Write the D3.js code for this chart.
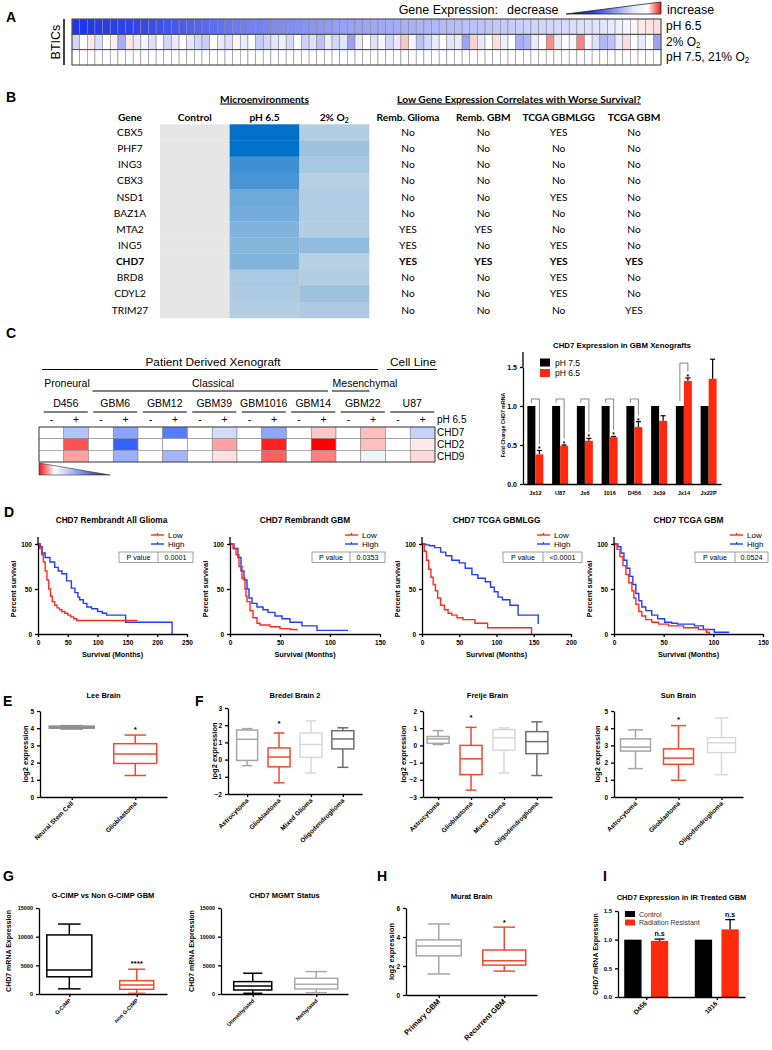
<!DOCTYPE html>
<html><head><meta charset="utf-8">
<script src="https://cdn.jsdelivr.net/npm/d3@7/dist/d3.min.js"></script>
<style>html,body{margin:0;padding:0;background:#fff;}svg{display:block;}</style>
</head><body>
<svg id="fig" width="772" height="1050" xmlns="http://www.w3.org/2000/svg"></svg>
<script>
// ================= DATA =================
// Panel A : BTIC chromatin-gene expression (log fold change vs control)
const aRowLabels = ["pH 6.5", "2% O2", "pH 7.5, 21% O2"];
const aPH65 = [-1,-1,-0.98,-0.97,-0.96,-0.95,-0.94,-0.93,-0.92,-0.9,
  -0.88,-0.86,-0.84,-0.82,-0.8,-0.78,-0.76,-0.74,-0.72,-0.7,
  -0.68,-0.66,-0.65,-0.63,-0.62,-0.6,-0.58,-0.57,-0.56,-0.55,
  -0.53,-0.52,-0.51,-0.5,-0.48,-0.47,-0.46,-0.45,-0.44,-0.43,
  -0.42,-0.41,-0.4,-0.39,-0.38,-0.37,-0.36,-0.35,-0.34,-0.33,
  -0.32,-0.31,-0.3,-0.29,-0.28,-0.27,-0.26,-0.25,-0.24,-0.23,
  -0.22,-0.21,-0.2,-0.19,-0.18,-0.17,-0.16,-0.15,-0.14,-0.12,
  -0.1,-0.08,-0.05,0.05,0.1,0.12,0.15];
const aO2 = [-0.2,0,0.1,-0.15,0,0.08,-0.4,0.1,-0.1,-0.05,
  -0.15,0,-0.2,-0.1,0,-0.12,-0.2,-0.25,0,-0.1,
  -0.15,0.05,-0.1,0,-0.25,-0.2,-0.12,-0.08,-0.18,0,
  -0.22,-0.15,-0.3,-0.1,-0.2,-0.12,-0.45,-0.1,0,-0.15,
  -0.05,-0.2,-0.1,0.25,-0.05,-0.3,-0.2,-0.1,0,-0.12,
  -0.1,-0.45,0.2,-0.1,0,0.15,-0.08,0,-0.4,-0.35,
  -0.1,0,0.5,-0.1,0,-0.05,0.55,-0.05,-0.15,-0.35,
  -0.3,-0.1,0.15,0,-0.1,0,-0.45];
const aBase = [0,0,0,0,0,0,0,0,0,0, 0,0,0,0,0,0,0,0,0,0, 0,0,0,0,0,0,0,0,0,0,
  0,0,0,0,0,0,0,0,0,0, 0,0,0,0,0,0,0,0,0,0, 0,0,0,0,0,0,0,0,0,0,
  0,0,0,0,0,0,0,0,0,0, 0,0,0,0,0,0,0];

// Panel B
const bGenes = ["CBX5","PHF7","ING3","CBX3","NSD1","BAZ1A","MTA2","ING5","CHD7","BRD8","CDYL2","TRIM27"];
const bConditions = ["Control","pH 6.5","2% O2"];
const bControl = [0,0,0,0,0,0,0,0,0,0,0,0];
const bPH65 = [-1,-1,-0.73,-0.69,-0.52,-0.5,-0.44,-0.42,-0.43,-0.26,-0.24,-0.22];
const bO2 = [-0.22,-0.32,-0.27,-0.2,-0.23,-0.23,-0.22,-0.37,-0.2,-0.22,-0.32,-0.25];
const bSurvCols = ["Remb. Glioma","Remb. GBM","TCGA GBMLGG","TCGA GBM"];
const bRembGlioma = ["No","No","No","No","No","No","YES","YES","YES","No","No","No"];
const bRembGBM    = ["No","No","No","No","No","No","YES","No","YES","No","No","No"];
const bTcgaGbmlgg = ["YES","No","No","No","YES","No","No","YES","YES","YES","YES","No"];
const bTcgaGbm    = ["No","No","No","No","No","No","No","No","YES","No","No","YES"];

// Panel C heatmap
const cSamples = ["D456","GBM6","GBM12","GBM39","GBM1016","GBM14","GBM22","U87"];
const cTreat = ["-","+"];
const cGenes = ["CHD7","CHD2","CHD9"];
const cCHD7 = [0,-0.34, 0,-0.52, 0,-0.75, 0,-0.2, 0,-0.5, 0,0.22, 0,0.25, 0,-0.26];
const cCHD2 = [0,0.68, 0,-0.9, 0,0, 0,0.37, 0,0.87, 0,1.0, 0,0.25, 0,0.09];
const cCHD9 = [0,0.37, 0,-0.45, 0,-0.42, 0,0.12, 0,0.62, 0,0.5, 0,-0.07, 0,0.15];

// Panel C bars
const cBarCats = ["Jx12","U87","Jx6","1016","D456","Jx39","Jx14","Jx22P"];
const cBarPH75 = [1,1,1,1,1,1,1,1];
const cBarPH65 = [0.38,0.49,0.555,0.6,0.73,0.81,1.32,1.35];
const cBarErr  = [0.05,0.01,0.03,0.01,0.07,0.065,0.04,0.25];
const cBarSig  = [1,1,1,1,1,0,1,0];
const cBarTicks = [0,0.5,1.0,1.5];

// Panel D Kaplan-Meier [months, percent survival]
const kmTitles = ["CHD7 Rembrandt All Glioma","CHD7 Rembrandt GBM","CHD7 TCGA GBMLGG","CHD7 TCGA GBM"];
const kmPvalues = ["0.0001","0.0353","<0.0001","0.0524"];
const kmXmax = [250,150,200,150];
const kmXticks = [[0,50,100,150,200,250],[0,50,100,150],[0,50,100,150,200],[0,50,100,150]];
const km1Low = [[0,100],[3,95],[6,88],[9,80],[12,70],[15,60],[18,50],[21,42],[24,36],[28,32],[32,29],[36,27],[40,25],[45,23],[50,21],[55,19],[60,17],[65,15],[167,15]];
const km1High = [[0,100],[4,97],[7,90],[12,85],[20,80],[28,74],[34,70],[40,67],[48,59],[56,51],[62,46],[67,41],[70,38],[76,34],[82,30],[90,28],[100,25],[108,23],[115,21],[147,21],[147,13],[225,13],[225,0]];
const km2Low = [[0,100],[3,95],[6,88],[9,75],[12,62],[15,50],[16,42],[17,36],[20,26],[23,18],[27,12],[30,10],[40,8],[50,6],[60,5],[67,4]];
const km2High = [[0,100],[4,95],[8,85],[11,70],[14,60],[17,50],[19,40],[22,34],[27,30],[33,27],[38,24],[45,20],[52,17],[60,13],[72,9],[87,4],[118,4]];
const km3Low = [[0,100],[3,92],[6,82],[9,72],[12,63],[15,55],[18,48],[21,40],[25,32],[30,27],[35,23],[40,21],[47,18],[55,16],[71,12],[88,7],[147,7],[147,0]];
const km3High = [[0,100],[5,99],[10,98],[17,96],[25,91],[32,87],[40,82],[50,79],[58,73],[67,66],[75,62],[85,58],[92,52],[97,47],[102,41],[108,38],[118,32],[129,21],[154,21],[156,11]];
const km4Low = [[0,100],[3,94],[6,86],[9,76],[12,66],[15,57],[18,48],[20,40],[22,33],[25,25],[28,20],[32,16],[38,13],[45,11],[55,9],[70,7],[85,5],[93,2],[96,0]];
const km4High = [[0,100],[4,97],[7,90],[10,82],[13,73],[16,64],[19,55],[22,45],[25,37],[28,30],[32,26],[38,21],[44,17],[51,13],[58,12],[64,11],[81,9],[90,5],[101,2],[116,2]];

// Panels E-H box plots: [min, q1, median, q3, max]
const leeCats = ["Neural Stem Cell","Glioblastoma"];
const leeStats = [[3.95,4.0,4.05,4.12,4.15],[1.25,1.95,2.5,3.1,3.6]];
const bredelCats = ["Astrocytoma","Glioblastoma","Mixed Glioma","Oligodendroglioma"];
const bredelStats = [[-0.35,-0.05,1.18,1.72,1.8],[-1.35,-0.42,0.15,0.68,1.55],[-0.78,0.13,0.88,1.55,2.25],[-0.45,0.62,1.2,1.68,1.85]];
const freijeCats = ["Astrocytoma","Glioblastoma","Mixed Glioma","Oligodendroglioma"];
const freijeStats = [[0.05,0.12,0.38,0.52,0.86],[-2.6,-1.7,-0.78,0.0,1.05],[-1.6,-0.28,0.45,0.92,1.02],[-1.75,-0.48,0.22,0.8,1.37]];
const sunCats = ["Astrocytoma","Glioblastoma","Oligodendroglioma"];
const sunStats = [[1.65,2.67,2.9,3.38,3.9],[0.97,1.9,2.26,2.8,4.15],[1.3,2.58,3.15,3.45,4.6]];
const gcimpCats = ["G-CIMP","non G-CIMP"];
const gcimpStats = [[900,3000,4200,10300,12200],[120,820,1575,2330,4320]];
const mgmtCats = ["Unmethylated","Methylated"];
const mgmtStats = [[120,700,1400,2160,3620],[230,875,1690,2740,3910]];
const muratCats = ["Primary GBM","Recurrent GBM"];
const muratStats = [[1.45,2.7,3.38,3.8,4.9],[1.65,2.06,2.36,3.1,4.68]];

// Panel I
const iGroups = ["D456","1016"];
const iSeries = ["Control","Radiation Resistant"];
const iControl = [1,1];
const iResistant = [0.98,1.18];
const iErr = [0.03,0.17];
const iSig = ["n.s","n.s"];

// ================= DRAWING =================
const svg = d3.select('#fig');
svg.append('rect').attr('width',772).attr('height',1050).attr('fill','#fff');
const FA = "'Liberation Sans', Arial, Helvetica, sans-serif";
const FC = "Lato, Carlito, Calibri, 'Open Sans', sans-serif";
const RED = '#ff2a0d', BOXRED = '#f24a2e', KM_RED = '#ff2a1a', KM_BLUE = '#1f3cff';

function T(g, x, y, s, o = {}) {
  const t = g.append('text').attr('x', x).attr('y', y)
    .attr('font-family', o.ff || FA).attr('font-size', o.fs || 8)
    .attr('font-weight', o.fw || 'normal').attr('text-anchor', o.anchor || 'start')
    .attr('fill', o.fill || '#000');
  if (o.rich) richText(t, s, o.fs || 8); else t.text(s);
  if (o.rot) t.attr('transform', `rotate(${o.rot},${x},${y})`);
  if (o.ul) t.attr('text-decoration', 'underline');
  return t;
}
function richText(t, s, fs) {
  const parts = s.split('O2'); let shift = 0;
  parts.forEach((p, i) => {
    const last = i === parts.length - 1;
    const a = t.append('tspan').text(p + (last ? '' : 'O'));
    if (shift) { a.attr('dy', -shift); shift = 0; }
    if (!last) { t.append('tspan').text('2').attr('font-size', fs * 0.68).attr('dy', fs * 0.22); shift = fs * 0.22; }
  });
}
function styleAxis(sel, fs, fw = 'bold') {
  sel.attr('font-family', FA).attr('font-size', fs).attr('font-weight', fw);
  sel.selectAll('path,line').attr('stroke', '#000').attr('stroke-width', 1.3);
  sel.selectAll('text').attr('fill', '#000');
}

// panel letters
[['A',6,22],['B',6,102],['C',6,338],['D',4,517],['E',3,706],['F',195,706],['G',3,881],['H',377,881],['I',603,881]]
  .forEach(([s,x,y]) => T(svg, x, y, s, {fw:'bold', fs:14}));

// ---------- Panel A ----------
{
  const g = svg.append('g');
  const top = 19, bot = 65;
  const x = d3.scaleBand().domain(d3.range(aPH65.length)).range([72, 661]);
  const y = d3.scaleBand().domain(aRowLabels).range([top, bot]);
  const col = d3.scaleLinear().domain([-1, 0, 1]).range(['#1f35e8', '#ffffff', '#f01c1c']);
  [aPH65, aO2, aBase].forEach((row, ri) => {
    g.append('g').selectAll('rect').data(row).join('rect')
      .attr('x', (d, i) => x(i)).attr('y', y(aRowLabels[ri]))
      .attr('width', x.bandwidth()).attr('height', y.bandwidth())
      .attr('fill', d => col(d)).attr('stroke', '#8a8a8a').attr('stroke-width', 0.6);
    g.append('rect').attr('x', 72).attr('y', y(aRowLabels[ri])).attr('width', 589).attr('height', y.bandwidth())
      .attr('fill', 'none').attr('stroke', '#444').attr('stroke-width', 0.9);
    T(g, 666, y(aRowLabels[ri]) + y.bandwidth() / 2 + 3.5, aRowLabels[ri], {fs: 12, rich: true});
  });
  g.append('line').attr('x1', 64).attr('x2', 64).attr('y1', top).attr('y2', bot).attr('stroke', '#000').attr('stroke-width', 1.5);
  T(g, 60, (top + bot) / 2, 'BTICs', {fs: 12.5, anchor: 'middle', rot: -90});
  T(g, 498, 14, 'Gene Expression:', {fs: 12.5, anchor: 'end'});
  T(g, 507, 14, 'decrease', {fs: 12.5});
  T(g, 667, 14, 'increase', {fs: 12.5});
  const defs = svg.append('defs');
  const grA = defs.append('linearGradient').attr('id', 'gradA');
  [[0,'#0a0a40'],[0.3,'#2f45dd'],[0.72,'#e8ebfc'],[0.86,'#ffffff'],[1,'#f01818']]
    .forEach(([o,c]) => grA.append('stop').attr('offset', o).attr('stop-color', c));
  g.append('polygon').attr('points', '566,14 661,14 661,2').attr('fill', 'url(#gradA)').attr('stroke', '#222').attr('stroke-width', 0.8);
  const grC = defs.append('linearGradient').attr('id', 'gradC');
  [[0,'#e8141e'],[0.22,'#ffffff'],[0.6,'#8190e6'],[1,'#15155a']]
    .forEach(([o,c]) => grC.append('stop').attr('offset', o).attr('stop-color', c));
}

// ---------- Panel B ----------
{
  const g = svg.append('g');
  const y = d3.scaleBand().domain(bGenes).range([124.3, 318]);
  const x = d3.scaleBand().domain(bConditions).range([160, 369]);
  const col = d3.scaleLinear().domain([-1, -0.2, 0]).range(['#0070c8', '#b8d0e4', '#e6e6e6']).clamp(true);
  [bControl, bPH65, bO2].forEach((arr, ci) => {
    g.append('g').selectAll('rect').data(arr).join('rect')
      .attr('x', x(bConditions[ci])).attr('y', (d, i) => y(bGenes[i]))
      .attr('width', x.bandwidth() + 0.3).attr('height', y.bandwidth() + 0.3).attr('fill', d => col(d));
  });
  const xs = d3.scalePoint().domain(bSurvCols).range([408, 634]);
  const fs = 10.2;
  T(g, x('pH 6.5') + x.bandwidth() / 2, 102.5, 'Microenvironments', {ff: FC, fw: 'bold', fs: fs, anchor: 'middle', ul: true});
  T(g, 519, 102.5, 'Low Gene Expression Correlates with Worse Survival?', {ff: FC, fw: 'bold', fs: fs, anchor: 'middle', ul: true});
  T(g, 130, 120.5, 'Gene', {ff: FC, fw: 'bold', fs: fs, anchor: 'middle'});
  bConditions.forEach(c => T(g, x(c) + x.bandwidth() / 2, 120.5, c, {ff: FC, fw: 'bold', fs: fs, anchor: 'middle', rich: true}));
  bSurvCols.forEach(c => T(g, xs(c), 120.5, c, {ff: FC, fw: 'bold', fs: fs, anchor: 'middle'}));
  const survCols = [bRembGlioma, bRembGBM, bTcgaGbmlgg, bTcgaGbm];
  bGenes.forEach((gene, i) => {
    const yy = y(gene) + y.bandwidth() / 2 + 3.6;
    const bold = gene === 'CHD7' ? 'bold' : 'normal';
    T(g, 130, yy, gene, {ff: FC, fs: fs, anchor: 'middle', fw: bold});
    survCols.forEach((arr, ci) => T(g, xs(bSurvCols[ci]), yy, arr[i], {ff: FC, fs: fs, anchor: 'middle', fw: bold}));
  });
}

// ---------- Panel C heatmap ----------
{
  const g = svg.append('g');
  const cols = [];
  cSamples.forEach(s => cTreat.forEach(t => cols.push(s + t)));
  const x = d3.scaleBand().domain(cols).range([39, 435]);
  const xs = d3.scaleBand().domain(cSamples).range([39, 435]);
  const y = d3.scaleBand().domain(cGenes).range([427, 462]);
  const col = d3.scaleLinear().domain([-1, 0, 1]).range(['#1e50ff', '#ffffff', '#ff0000']);
  [cCHD7, cCHD2, cCHD9].forEach((row, ri) => {
    g.append('g').selectAll('rect').data(row).join('rect')
      .attr('x', (d, i) => x(cols[i])).attr('y', y(cGenes[ri]))
      .attr('width', x.bandwidth()).attr('height', y.bandwidth())
      .attr('fill', d => col(d)).attr('stroke', '#888').attr('stroke-width', 0.6);
    T(g, 437, y(cGenes[ri]) + y.bandwidth() / 2 + 3.5, cGenes[ri], {fs: 10});
  });
  g.append('rect').attr('x', 39).attr('y', 427).attr('width', 396).attr('height', 35).attr('fill', 'none').attr('stroke', '#333').attr('stroke-width', 0.8);
  cols.forEach((c, i) => T(g, x(c) + x.bandwidth() / 2, 423, cTreat[i % 2], {fs: 10.5, anchor: 'middle'}));
  T(g, 437, 423, 'pH 6.5', {fs: 10});
  cSamples.forEach(s => {
    const cx = xs(s) + xs.bandwidth() / 2 + 2;
    T(g, cx, 407, s, {fs: 10.5, anchor: 'middle'});
    g.append('line').attr('x1', cx - 22).attr('x2', cx + 22).attr('y1', 412).attr('y2', 412).attr('stroke', '#000').attr('stroke-width', 1);
  });
  T(g, 67, 387, 'Proneural', {fs: 10.5, anchor: 'middle'});
  T(g, 213, 387, 'Classical', {fs: 10.5, anchor: 'middle'});
  T(g, 365, 387, 'Mesenchymal', {fs: 10.5, anchor: 'middle'});
  g.append('line').attr('x1', xs('GBM6') + 4).attr('x2', xs('GBM14') + xs.bandwidth() - 8).attr('y1', 391).attr('y2', 391).attr('stroke', '#000');
  g.append('line').attr('x1', xs('GBM22') - 4).attr('x2', xs('GBM22') + xs.bandwidth() - 16).attr('y1', 391).attr('y2', 391).attr('stroke', '#000');
  T(g, 213, 366, 'Patient Derived Xenograft', {fs: 11.8, anchor: 'middle'});
  T(g, 413, 366, 'Cell Line', {fs: 11.8, anchor: 'middle'});
  g.append('line').attr('x1', 42).attr('x2', 378).attr('y1', 369.5).attr('y2', 369.5).attr('stroke', '#000').attr('stroke-width', 1.2);
  g.append('line').attr('x1', 387).attr('x2', 437).attr('y1', 369.5).attr('y2', 369.5).attr('stroke', '#000').attr('stroke-width', 1.2);
  g.append('polygon').attr('points', '39,463 110,475 39,475').attr('fill', 'url(#gradC)').attr('stroke', '#333').attr('stroke-width', 0.6);
}

// ---------- Panel C bar chart ----------
{
  const g = svg.append('g');
  const x = d3.scaleBand().domain(cBarCats).range([523, 721]);
  const xi = d3.scaleBand().domain(['pH 7.5', 'pH 6.5']).range([-8, 8]);
  const y = d3.scaleLinear().domain([0, 1.5]).range([484, 367]);
  const cx = c => x(c) + x.bandwidth() / 2;
  g.append('g').selectAll('rect').data(cBarPH75).join('rect')
    .attr('x', (d, i) => cx(cBarCats[i]) + xi('pH 7.5')).attr('y', d => y(d))
    .attr('width', xi.bandwidth()).attr('height', d => y(0) - y(d)).attr('fill', '#000');
  g.append('g').selectAll('rect').data(cBarPH65).join('rect')
    .attr('x', (d, i) => cx(cBarCats[i]) + xi('pH 6.5')).attr('y', d => y(d))
    .attr('width', xi.bandwidth()).attr('height', d => y(0) - y(d)).attr('fill', RED);
  cBarCats.forEach((c, i) => {
    const rx = cx(c) + xi('pH 6.5') + xi.bandwidth() / 2;
    const v = cBarPH65[i], e = cBarErr[i];
    g.append('line').attr('x1', rx).attr('x2', rx).attr('y1', y(v)).attr('y2', y(v + e)).attr('stroke', '#000').attr('stroke-width', 1.2);
    g.append('line').attr('x1', rx - 2.5).attr('x2', rx + 2.5).attr('y1', y(v + e)).attr('y2', y(v + e)).attr('stroke', '#000').attr('stroke-width', 1.2);
    if (cBarSig[i]) {
      const bx = cx(c) + xi('pH 7.5') + xi.bandwidth() / 2;
      const top = v > 1 ? v + e + 0.19 : 1.09;
      const leftBottom = v > 1 ? 1.06 : 1.04;
      g.append('path').attr('d', `M${bx},${y(leftBottom)}V${y(top)}H${rx}V${y(v + e + 0.08)}`)
        .attr('fill', 'none').attr('stroke', '#666').attr('stroke-width', 0.8);
      T(g, rx, y(v + e) + 1, '*', {fs: 6.5, fw: 'bold', anchor: 'middle'});
    }
    T(g, cx(c), 494.5, c, {fs: 5.6, fw: 'bold', anchor: 'middle'});
  });
  const ya = g.append('g').attr('transform', 'translate(523,0)')
    .call(d3.axisLeft(y).tickValues(cBarTicks).tickSize(3).tickSizeOuter(0).tickFormat(d3.format('.1f')));
  styleAxis(ya, 7);
  g.append('line').attr('x1', 523).attr('x2', 523).attr('y1', 367).attr('y2', 352).attr('stroke', '#000').attr('stroke-width', 1.3);
  const xa = g.append('g').attr('transform', 'translate(0,484)').call(d3.axisBottom(x).tickSize(0).tickSizeOuter(0).tickFormat(''));
  styleAxis(xa, 6);
  T(g, 505, 425, 'Fold Change CHD7 mRNA', {fs: 5.2, fw: 'bold', anchor: 'middle', rot: -90});
  T(g, 622, 348, 'CHD7 Expression in GBM Xenografts', {fs: 7.8, fw: 'bold', anchor: 'middle'});
  [['pH 7.5', '#000', 358.5], ['pH 6.5', RED, 369]].forEach(([s, c, yy]) => {
    g.append('rect').attr('x', 540).attr('y', yy).attr('width', 10).attr('height', 8).attr('fill', c);
    T(g, 555, yy + 7, s, {fs: 8.5});
  });
}

// ---------- Panel D KM ----------
const kmLows = [km1Low, km2Low, km3Low, km4Low];
const kmHighs = [km1High, km2High, km3High, km4High];
const kmLayout = [
  {x0: 38, x1: 187, leg: 151, box: [119, 158, 193]},
  {x0: 230, x1: 380, leg: 345, box: [312, 350, 385]},
  {x0: 422, x1: 571, leg: 537, box: [503, 543, 582]},
  {x0: 614, x1: 763, leg: 730, box: [695, 735, 768]}
];
kmTitles.forEach((title, k) => {
  const L = kmLayout[k];
  const g = svg.append('g');
  const x = d3.scaleLinear().domain([0, kmXmax[k]]).range([L.x0, L.x1]);
  const y = d3.scaleLinear().domain([0, 100]).range([634, 544]);
  const line = d3.line().x(d => x(d[0])).y(d => y(d[1])).curve(d3.curveStepAfter);
  g.append('path').datum(kmHighs[k]).attr('d', line).attr('fill', 'none').attr('stroke', KM_BLUE).attr('stroke-width', 1.4);
  g.append('path').datum(kmLows[k]).attr('d', line).attr('fill', 'none').attr('stroke', KM_RED).attr('stroke-width', 1.4);
  const xa = g.append('g').attr('transform', 'translate(0,634)')
    .call(d3.axisBottom(x).tickValues(kmXticks[k]).tickSize(3).tickSizeOuter(0).tickFormat(d3.format('d')));
  styleAxis(xa, 6.5);
  const ya = g.append('g').attr('transform', `translate(${L.x0},0)`)
    .call(d3.axisLeft(y).tickValues([0, 50, 100]).tickSize(3).tickSizeOuter(0));
  styleAxis(ya, 6.5);
  g.append('line').attr('x1', L.x0).attr('x2', L.x0).attr('y1', 544).attr('y2', 537).attr('stroke', '#000').attr('stroke-width', 1.3);
  T(g, (L.x0 + L.x1) / 2, 657, 'Survival (Months)', {fw: 'bold', fs: 7.3, anchor: 'middle'});
  T(g, L.x0 - 22, 589, 'Percent survival', {fw: 'bold', fs: 7.3, anchor: 'middle', rot: -90});
  T(g, (L.x0 + L.x1) / 2 + (k === 0 ? -1 : 0), 523, title, {fw: 'bold', fs: 8.3, anchor: 'middle'});
  [['Low', KM_RED, 535], ['High', KM_BLUE, 544]].forEach(([s, c, yy]) => {
    g.append('line').attr('x1', L.leg).attr('x2', L.leg + 13).attr('y1', yy).attr('y2', yy).attr('stroke', c).attr('stroke-width', 1.4);
    g.append('line').attr('x1', L.leg + 6.5).attr('x2', L.leg + 6.5).attr('y1', yy - 2).attr('y2', yy).attr('stroke', c).attr('stroke-width', 1.2);
    T(g, L.leg + 17, yy + 3, s, {fs: 8});
  });
  const [b0, bd, b1] = L.box;
  g.append('rect').attr('x', b0).attr('y', 552).attr('width', b1 - b0).attr('height', 10.5).attr('fill', 'none').attr('stroke', '#777').attr('stroke-width', 0.7);
  g.append('line').attr('x1', bd).attr('x2', bd).attr('y1', 552).attr('y2', 562.5).attr('stroke', '#777').attr('stroke-width', 0.7);
  T(g, (b0 + bd) / 2, 560, 'P value', {fs: 7.2, anchor: 'middle'});
  T(g, (bd + b1) / 2, 560, kmPvalues[k], {fs: 7.2, anchor: 'middle'});
});

// ---------- Box plot panels ----------
function boxPanel(o) {
  const g = svg.append('g');
  const y = d3.scaleLinear().domain(o.yDomain).range(o.yRange);
  const x = d3.scalePoint().domain(o.cats).range([o.x0, o.x1]).padding(o.pad);
  const yb = o.yRange[0];
  const ya = g.append('g').attr('transform', `translate(${o.x0},0)`)
    .call(d3.axisLeft(y).tickValues(o.yTicks).tickSize(3).tickSizeOuter(0).tickFormat(o.fmt || d3.format('d')));
  styleAxis(ya, o.tfs || 6.5);
  const xa = g.append('g').attr('transform', `translate(0,${yb})`)
    .call(d3.axisBottom(x).tickSize(3).tickSizeOuter(0).tickFormat(''));
  styleAxis(xa, 6);
  o.cats.forEach((c, i) => {
    const s = o.stats[i], cx = x(c), w = o.widths[i], col = o.colors[i], cw = w * 0.5;
    const bg = g.append('g').attr('stroke', col).attr('stroke-width', 1.5).attr('fill', 'none');
    bg.append('line').attr('x1', cx).attr('x2', cx).attr('y1', y(s[4])).attr('y2', y(s[3]));
    bg.append('line').attr('x1', cx).attr('x2', cx).attr('y1', y(s[1])).attr('y2', y(s[0]));
    bg.append('line').attr('x1', cx - cw / 2).attr('x2', cx + cw / 2).attr('y1', y(s[4])).attr('y2', y(s[4]));
    bg.append('line').attr('x1', cx - cw / 2).attr('x2', cx + cw / 2).attr('y1', y(s[0])).attr('y2', y(s[0]));
    bg.append('rect').attr('x', cx - w / 2).attr('y', y(s[3])).attr('width', w).attr('height', y(s[1]) - y(s[3])).attr('fill', '#fff');
    bg.append('line').attr('x1', cx - w / 2).attr('x2', cx + w / 2).attr('y1', y(s[2])).attr('y2', y(s[2]));
    T(g, cx + 2, yb + 7, c, {fw: 'bold', fs: o.lfs || 6.5, anchor: 'end', rot: -45});
  });
  if (o.sig) T(g, x(o.sig.cat), y(o.sig.v) + 4, o.sig.text, {fw: 'bold', fs: 8, anchor: 'middle'});
  T(g, (o.x0 + o.x1) / 2, o.titleY, o.title, {fw: 'bold', fs: o.titfs || 7.5, anchor: 'middle'});
  T(g, o.ylabX, (yb + o.yRange[1]) / 2, o.ylab, {fw: 'bold', fs: o.yfs || 7.5, anchor: 'middle', rot: -90});
}
const GREY = '#a6a6a6', LGREY = '#d9d9d9', DGREY = '#6e6e6e';
boxPanel({cats: leeCats, stats: leeStats, x0: 40, x1: 167, pad: 0.5, yDomain: [0, 5], yRange: [797, 711], yTicks: [0,1,2,3,4,5],
  widths: [45, 43], colors: ['#8c8c8c', BOXRED], title: 'Lee Brain', titleY: 698, ylab: 'log2 expression', ylabX: 28,
  sig: {cat: 'Glioblastoma', v: 4.0, text: '*'}});
boxPanel({cats: bredelCats, stats: bredelStats, x0: 228, x1: 362, pad: 0.6, yDomain: [-2, 3], yRange: [794, 708], yTicks: [-2,-1,0,1,2,3],
  widths: [21, 22, 22, 22], colors: [GREY, BOXRED, LGREY, DGREY], title: 'Bredel Brain 2', titleY: 698, ylab: 'log2 expression', ylabX: 217,
  sig: {cat: 'Glioblastoma', v: 2.2, text: '*'}});
boxPanel({cats: freijeCats, stats: freijeStats, x0: 423, x1: 552, pad: 0.46, yDomain: [-3, 2], yRange: [797, 711], yTicks: [-3,-2,-1,0,1,2],
  widths: [22, 22, 22, 22], colors: [GREY, BOXRED, LGREY, DGREY], title: 'Freije Brain', titleY: 698, ylab: 'log2 expression', ylabX: 406,
  sig: {cat: 'Glioblastoma', v: 1.7, text: '*'}});
boxPanel({cats: sunCats, stats: sunStats, x0: 614, x1: 743, pad: 0.5, yDomain: [0, 5], yRange: [797, 711], yTicks: [0,1,2,3,4,5],
  widths: [30, 30, 28], colors: [GREY, BOXRED, LGREY], title: 'Sun Brain', titleY: 698, ylab: 'log2 expression', ylabX: 600,
  sig: {cat: 'Glioblastoma', v: 4.6, text: '*'}});
boxPanel({cats: gcimpCats, stats: gcimpStats, x0: 39, x1: 167, pad: 0.45, yDomain: [0, 15000], yRange: [994, 908], yTicks: [0,5000,10000,15000],
  widths: [45, 34], colors: ['#000', BOXRED], title: 'G-CIMP vs Non G-CIMP GBM', titleY: 898, ylab: 'CHD7 mRNA Expression', ylabX: 11,
  tfs: 5.5, lfs: 5.5, yfs: 7, sig: {cat: 'non G-CIMP', v: 5540, text: '****'}});
boxPanel({cats: mgmtCats, stats: mgmtStats, x0: 221, x1: 348, pad: 0.5, yDomain: [0, 15000], yRange: [994, 908], yTicks: [0,5000,10000,15000],
  widths: [38, 43], colors: ['#000', '#ababab'], title: 'CHD7 MGMT Status', titleY: 898, ylab: 'CHD7 mRNA Expression', ylabX: 194,
  tfs: 5.5, lfs: 5.5, yfs: 7});
boxPanel({cats: muratCats, stats: muratStats, x0: 406, x1: 537, pad: 0.5, yDomain: [0, 6], yRange: [995, 908], yTicks: [0,2,4,6],
  widths: [45, 43], colors: [GREY, BOXRED], title: 'Murat Brain', titleY: 899, ylab: 'log2 expression', ylabX: 394,
  lfs: 7.5, sig: {cat: 'Recurrent GBM', v: 5.1, text: '*'}});

// ---------- Panel I ----------
{
  const g = svg.append('g');
  const x = d3.scalePoint().domain(iGroups).range([618, 745]).padding(0.4);
  const xi = d3.scaleBand().domain(iSeries).range([-22, 22]).paddingInner(0.35);
  const y = d3.scaleLinear().domain([0, 1.5]).range([997, 911]);
  g.append('g').selectAll('rect').data(iControl).join('rect')
    .attr('x', (d, i) => x(iGroups[i]) + xi('Control')).attr('y', d => y(d))
    .attr('width', xi.bandwidth()).attr('height', d => y(0) - y(d)).attr('fill', '#000');
  g.append('g').selectAll('rect').data(iResistant).join('rect')
    .attr('x', (d, i) => x(iGroups[i]) + xi('Radiation Resistant')).attr('y', d => y(d))
    .attr('width', xi.bandwidth()).attr('height', d => y(0) - y(d)).attr('fill', RED);
  iGroups.forEach((c, i) => {
    const rx = x(c) + xi('Radiation Resistant') + xi.bandwidth() / 2;
    const v = iResistant[i], e = iErr[i];
    g.append('line').attr('x1', rx).attr('x2', rx).attr('y1', y(v)).attr('y2', y(v + e)).attr('stroke', '#000').attr('stroke-width', 1.3);
    g.append('line').attr('x1', rx - 5).attr('x2', rx + 5).attr('y1', y(v + e)).attr('y2', y(v + e)).attr('stroke', '#000').attr('stroke-width', 1.3);
    T(g, rx, y(v + e) - 3, iSig[i], {fs: 7, fw: 'bold', anchor: 'middle'});
    T(g, x(c) + 1, 1004, c, {fw: 'bold', fs: 6.5, anchor: 'end', rot: -45});
  });
  const ya = g.append('g').attr('transform', 'translate(618,0)')
    .call(d3.axisLeft(y).tickValues([0, 0.5, 1, 1.5]).tickSize(3).tickSizeOuter(0).tickFormat(d3.format('.1f')));
  styleAxis(ya, 6);
  const xa = g.append('g').attr('transform', 'translate(0,997)').call(d3.axisBottom(x).tickSize(3).tickSizeOuter(0).tickFormat(''));
  styleAxis(xa, 6);
  T(g, 681.5, 900, 'CHD7 Expression in IR Treated GBM', {fs: 7.5, fw: 'bold', anchor: 'middle'});
  T(g, 598, 954, 'CHD7 mRNA Expression', {fs: 7, fw: 'bold', anchor: 'middle', rot: -90});
  [['Control', '#000', 911], ['Radiation Resistant', RED, 919.5]].forEach(([s, c, yy]) => {
    g.append('rect').attr('x', 625).attr('y', yy).attr('width', 10).attr('height', 6).attr('fill', c);
    T(g, 639, yy + 5.5, s, {fs: 7, fill: '#333'});
  });
}
</script>
</body></html>
